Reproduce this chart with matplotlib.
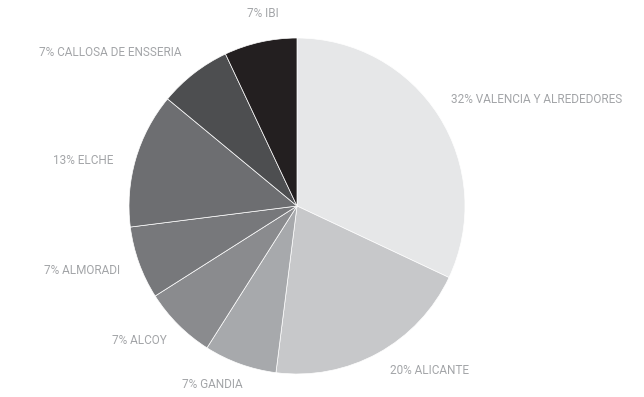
import matplotlib
matplotlib.use("Agg")
import matplotlib.pyplot as plt

categories = ["VALENCIA Y ALREDEDORES", "ALICANTE", "GANDIA", "ALCOY",
              "ALMORADI", "ELCHE", "CALLOSA DE ENSSERIA", "IBI"]
values = [32, 20, 7, 7, 7, 13, 7, 7]
colors = ["#e6e7e8", "#c7c8ca", "#a7a9ac", "#8a8b8e",
          "#77787b", "#6d6e71", "#4d4e50", "#231f20"]

labels = [f"{v}% {c}" for v, c in zip(values, categories)]

# label anchor positions in pixels (x anchor, vertical centre) and alignment
label_px = [(451, 99), (390, 370), (243, 384), (167, 340),
            (120, 270), (113, 160), (182, 52), (279, 13)]
label_ha = ["left", "left", "right", "right", "right", "right", "right", "right"]

fig = plt.figure(figsize=(6.44, 3.97), dpi=100)
ax = fig.add_axes([0, 0, 1, 1])
wedges, _ = ax.pie(values, colors=colors, startangle=90,
                   counterclock=False, radius=1.0,
                   wedgeprops=dict(linewidth=0.5, edgecolor="white"))
cx, cy, R = 297, 206, 168
ax.set_xlim(-cx / R, (644 - cx) / R)
ax.set_ylim(-(397 - cy) / R, cy / R)
ax.set_aspect("auto")
ax.axis("off")

for lab, (px, py), ha in zip(labels, label_px, label_ha):
    ax.text((px - cx) / R, (cy - (py + 3.8)) / R, lab, ha=ha, va="baseline",
            color="#a3a5a8", fontsize=8.5, family="Roboto")

fig.savefig("out.png", dpi=100)
